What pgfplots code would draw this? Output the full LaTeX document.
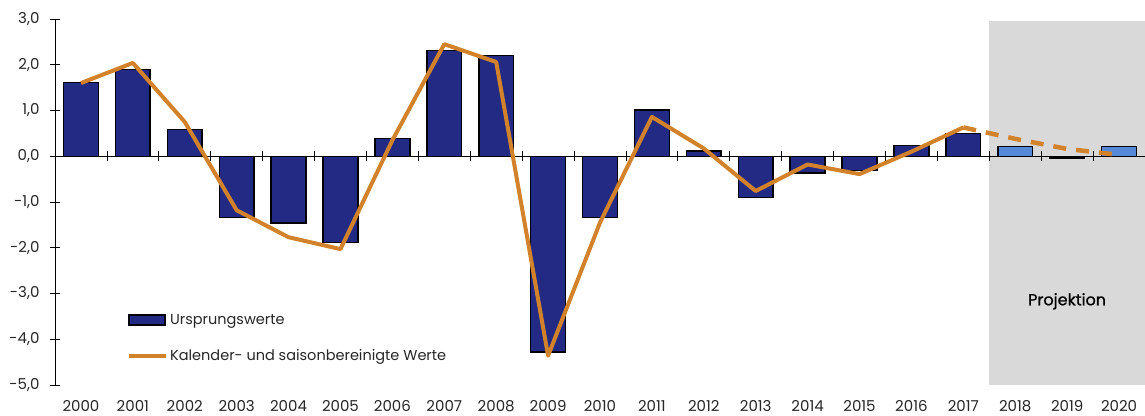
\documentclass[border=0pt]{standalone}
\usepackage{fontspec}
\setmainfont{Poppins}
\usepackage{pgfplots}
\pgfplotsset{compat=1.18}
\definecolor{navy}{HTML}{232A83}
\definecolor{projblue}{HTML}{5588D6}
\definecolor{kzorange}{HTML}{D2822A}
\definecolor{projgrey}{HTML}{D9D9D9}
\begin{document}
\begin{tikzpicture}
\useasboundingbox (-55pt,-30pt) rectangle (1090pt,385pt);
\pgfplotsset{
  common/.style={
    scale only axis, width=1090pt, height=366pt,
    xmin=-0.5, xmax=20.5, ymin=-5, ymax=3,
    at={(0pt,0pt)}, anchor=south west,
  }
}
\begin{axis}[common,
  axis y line*=left, axis x line*=bottom,
  x axis line style={draw=none},
  xtick={0,...,20},
  xticklabels={2000,2001,2002,2003,2004,2005,2006,2007,2008,2009,2010,2011,2012,2013,2014,2015,2016,2017,2018,2019,2020},
  xtick style={draw=none},
  ytick={-5,-4,...,3},
  tick align=center, major tick length=10pt,
  ytick style={black, line width=0.8pt},
  y axis line style={black, line width=0.8pt},
  yticklabel style={xshift=-7pt, /pgf/number format/fixed, /pgf/number format/fixed zerofill, /pgf/number format/precision=1, /pgf/number format/use comma, /pgf/number format/assume math mode=true},
  ticklabel style={font=\fontsize{15}{18}\selectfont, text=black!85},
  xticklabel style={yshift=-7pt},
  legend style={at={(0.066,0.128)}, anchor=west, draw=none, fill=none,
    font=\fontsize{14.5}{17}\selectfont, inner sep=0pt, row sep=20pt,
    text=black!85},
  legend cell align=left,
]
\addplot[draw=none, fill=projgrey, forget plot] coordinates {(17.5,-5) (17.5,2.95) (20.5,2.95) (20.5,-5)} -- cycle;
\addplot[ybar, bar width=0.67, bar shift=0pt, fill=navy, draw=black, line width=1.5pt, forget plot]
  coordinates {(0,1.61) (1,1.90) (2,0.59) (3,-1.34) (4,-1.46) (5,-1.88) (6,0.39) (7,2.31) (8,2.20) (9,-4.28)
  (10,-1.34) (11,1.01) (12,0.12) (13,-0.90) (14,-0.37) (15,-0.31) (16,0.23) (17,0.50)};
\addplot[ybar, bar width=0.67, bar shift=0pt, fill=projblue, draw=black, line width=1.5pt, forget plot]
  coordinates {(18,0.21) (19,-0.04) (20,0.21)};
\node[font=\fontsize{16}{19}\selectfont\addfontfeature{FakeBold=0.8}] at (axis cs:19,-3.17) {Projektion};
\addlegendimage{legend image code/.code={\draw[fill=navy,draw=black,line width=1.3pt] (0pt,-5pt) rectangle (36pt,5pt);}}
\addlegendentry{Ursprungswerte}
\addlegendimage{legend image code/.code={\draw[kzorange,line width=4pt] (0pt,0pt) -- (37pt,0pt);}}
\addlegendentry{Kalender- und saisonbereinigte Werte}
\end{axis}
\begin{axis}[common,
  axis x line*=middle, axis y line=none,
  xtick={0.5,1.5,...,19.5}, xticklabels={},
  ytick=\empty,
  tick align=center, major tick length=10pt,
  tick style={black, line width=0.8pt},
  x axis line style={black, line width=0.8pt},
]
\addplot[kzorange, line width=4pt, line join=round]
  coordinates {(0,1.60) (1,2.04) (2,0.75) (3,-1.18) (4,-1.77) (5,-2.03) (6,0.35) (7,2.45) (8,2.06) (9,-4.36)
  (10,-1.45) (11,0.86) (12,0.17) (13,-0.76) (14,-0.18) (15,-0.39) (16,0.10) (17,0.63)};
\addplot[kzorange, line width=4.5pt, dash pattern=on 13pt off 10pt]
  coordinates {(17,0.63) (18,0.38) (19,0.16) (20,0.03)};
\end{axis}
\end{tikzpicture}
\end{document}
